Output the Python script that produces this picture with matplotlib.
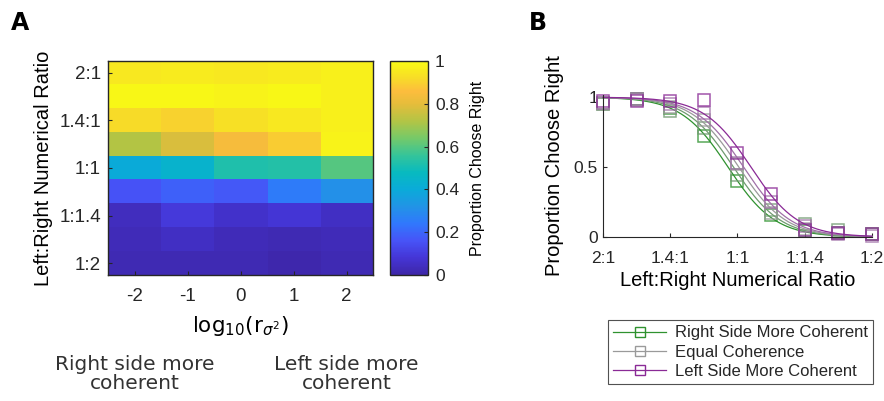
import numpy as np
import matplotlib
matplotlib.use('Agg')
import matplotlib.pyplot as plt
from matplotlib.colors import LinearSegmentedColormap
from matplotlib.lines import Line2D
import matplotlib.transforms as mtransforms

# Data: proportion choose right, one list per coherence condition (log10 r)
coherence = [-2, -1, 0, 1, 2]
ratio_ticks = [1, 3, 5, 7, 9]
ratio_labels = ['2:1', '1.4:1', '1:1', '1:1.4', '1:2']
ratio_pos = [1, 2, 3, 4, 5, 6, 7, 8, 9]

p_m2 = [0.95, 0.99, 0.92, 0.72, 0.40, 0.16, 0.04, 0.03, 0.02]
p_m1 = [0.96, 0.99, 0.90, 0.78, 0.44, 0.19, 0.09, 0.05, 0.02]
p_0 = [0.95, 0.98, 0.93, 0.84, 0.52, 0.17, 0.06, 0.03, 0.02]
p_p1 = [0.96, 0.99, 0.95, 0.89, 0.53, 0.25, 0.08, 0.02, 0.01]
p_p2 = [0.97, 0.97, 0.97, 0.98, 0.60, 0.31, 0.05, 0.03, 0.02]
series = [p_m2, p_m1, p_0, p_p1, p_p2]

legend_labels = ['Right Side More Coherent', 'Equal Coherence', 'Left Side More Coherent']
series_colors = ['#2f922f', '#6f9a6f', '#9a9a9a', '#a070a8', '#8a2a96']

# approximate parula colormap
parula = LinearSegmentedColormap.from_list('parula', [
    (0.00, (0.2422, 0.1504, 0.6603)),
    (0.08, (0.2700, 0.2100, 0.8400)),
    (0.16, (0.2780, 0.3300, 0.9700)),
    (0.24, (0.1900, 0.4700, 0.9900)),
    (0.32, (0.1300, 0.5800, 0.9000)),
    (0.40, (0.0400, 0.6700, 0.8500)),
    (0.48, (0.0300, 0.7300, 0.7500)),
    (0.56, (0.2100, 0.7700, 0.6000)),
    (0.64, (0.4600, 0.7900, 0.4100)),
    (0.72, (0.7000, 0.7700, 0.2700)),
    (0.80, (0.9000, 0.7400, 0.2300)),
    (0.86, (0.9900, 0.7400, 0.2400)),
    (0.92, (0.9700, 0.8600, 0.1600)),
    (1.00, (0.9769, 0.9839, 0.0805)),
])

plt.rcParams['font.family'] = ['Liberation Sans', 'DejaVu Sans']
plt.rcParams['mathtext.fontset'] = 'dejavusans'
dark = '#262626'
plt.rcParams['axes.edgecolor'] = dark
plt.rcParams['xtick.color'] = dark
plt.rcParams['ytick.color'] = dark
plt.rcParams['text.color'] = dark

fig = plt.figure(figsize=(8.84, 4.01), dpi=100)

# ---- Panel A: heatmap ----
axA = fig.add_axes([0.1222, 0.3142, 0.2998, 0.5337])
grid = np.array(series).T  # rows = ratios, cols = coherence
im = axA.imshow(grid, cmap=parula, vmin=0, vmax=1, aspect='auto',
                extent=[coherence[0] - 0.5, coherence[-1] + 0.5, ratio_pos[-1] + 0.5, ratio_pos[0] - 0.5])
axA.set_xticks(coherence)
axA.set_xticklabels([str(c) for c in coherence])
axA.set_yticks(ratio_ticks)
axA.set_yticklabels(ratio_labels)
axA.tick_params(direction='in', labelsize=13.5, length=3, width=0.8)
axA.tick_params(axis='x', pad=9)
axA.tick_params(axis='y', pad=5)
for s in axA.spines.values():
    s.set_linewidth(1.0)
axA.set_ylabel('Left:Right Numerical Ratio', fontsize=14.5, labelpad=5)
axA.set_xlabel(r'$\mathrm{log}_{10}(\mathrm{r}_{\sigma^2})$', fontsize=15.5, family='DejaVu Sans', labelpad=7)

trans = mtransforms.blended_transform_factory(axA.transData, fig.transFigure)
axA.text(coherence[0], 0.02, 'Right side more\ncoherent', transform=trans, ha='center', va='bottom',
         fontsize=14.5, family='DejaVu Sans', linespacing=1.0, color='#333333')
axA.text(coherence[-1], 0.02, 'Left side more\ncoherent', transform=trans, ha='center', va='bottom',
         fontsize=14.5, family='DejaVu Sans', linespacing=1.0, color='#333333')

cax = fig.add_axes([0.4412, 0.3142, 0.043, 0.5337])
cb = fig.colorbar(im, cax=cax)
cb.set_ticks([0, 0.2, 0.4, 0.6, 0.8, 1])
cb.set_ticklabels(['0', '0.2', '0.4', '0.6', '0.8', '1'])
cb.ax.tick_params(direction='in', labelsize=12.5, length=3, width=0.8, pad=5)
cb.outline.set_linewidth(1.0)
cb.set_label('Proportion Choose Right', fontsize=11.5, labelpad=8)

fig.text(0.012, 0.925, 'A', fontsize=17, fontweight='bold', family='DejaVu Sans', color='black')
fig.text(0.598, 0.925, 'B', fontsize=17, fontweight='bold', family='DejaVu Sans', color='black')

# ---- Panel B: psychometric curves ----
axB = fig.add_axes([0.6821, 0.409, 0.3043, 0.354])
x = np.array(ratio_pos, dtype=float)
xf = np.linspace(x[0], x[-1], 300)
Y = np.array(series)
mus = np.linspace(3.0, 7.0, 401)
ss = np.linspace(0.3, 2.0, 171)
# logistic fit with a shared slope and one midpoint per condition (grid search)
pred = 1.0 / (1.0 + np.exp((x[None, None, :] - mus[None, :, None]) / ss[:, None, None]))
err = ((pred[:, None, :, :] - Y[None, :, None, :]) ** 2).sum(axis=-1)  # (s, series, mu)
best_mu_idx = err.argmin(axis=-1)
tot = err.min(axis=-1).sum(axis=-1)
si = tot.argmin()
s_fit = ss[si]
mu_fit = mus[best_mu_idx[si]]

for vals, col, mu in zip(series, series_colors, mu_fit):
    axB.plot(xf, 1.0 / (1.0 + np.exp((xf - mu) / s_fit)), color=col, lw=0.9, clip_on=False)
    axB.plot(x, vals, 's', mfc='none', mec=col, ms=8.5, mew=1.1, alpha=0.8, clip_on=False)

axB.set_xlim(x[0], x[-1])
axB.set_ylim(0, 1.015)
axB.set_xticks(ratio_ticks)
axB.set_xticklabels(ratio_labels)
axB.set_yticks([0, 0.5, 1])
axB.set_yticklabels(['0', '0.5', '1'])
axB.spines['top'].set_visible(False)
axB.spines['right'].set_visible(False)
axB.tick_params(direction='in', labelsize=12.5, length=3, width=0.8)
axB.tick_params(axis='x', pad=10)
axB.set_xlabel('Left:Right Numerical Ratio', fontsize=14.5, labelpad=4)
axB.set_ylabel('Proportion Choose Right', fontsize=14.5, labelpad=7)

handles = [Line2D([], [], color=series_colors[k], marker='s', mfc='none', mec=series_colors[k],
                  ms=7, lw=0.9) for k in (0, 2, 4)]
leg = fig.legend(handles, legend_labels, loc='center', bbox_to_anchor=(0.8375, 0.122),
                 fontsize=12, frameon=True, fancybox=False, edgecolor=dark, handlelength=3.2,
                 borderpad=0.3, labelspacing=0.25, handletextpad=0.5, borderaxespad=0)
leg.get_frame().set_linewidth(0.8)

fig.savefig('out.png', dpi=100)
